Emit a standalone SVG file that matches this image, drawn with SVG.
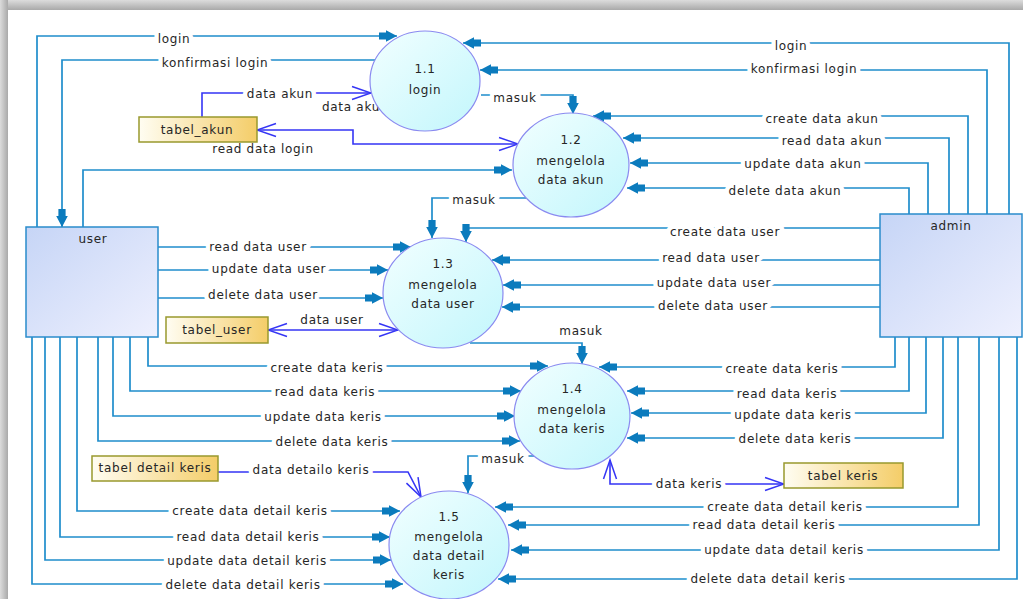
<svg xmlns="http://www.w3.org/2000/svg" width="1023" height="599" viewBox="0 0 1023 599">
<style>
text{font-family:"DejaVu Sans","Liberation Sans",sans-serif;font-size:12px;letter-spacing:0.7px;fill:#262626;text-anchor:middle}
.lbl{paint-order:stroke;stroke:#fff;stroke-width:9px;stroke-linejoin:round}
.c{fill:none;stroke:#1f8dcc;stroke-width:1.7;marker-end:url(#ah)}
.d{fill:none;stroke:#3535f5;stroke-width:1.6}
.proc{fill:url(#gp);stroke:#8a8af0;stroke-width:1.2}
.ent{fill:url(#ge);stroke:#2a8ccc;stroke-width:1.5}
.store{fill:url(#gs);stroke:#99992e;stroke-width:1.5}
</style>
<defs>
<linearGradient id="gp" x1="0" y1="0" x2="1" y2="1"><stop offset="0" stop-color="#f2ffff"/><stop offset="1" stop-color="#c2f6fc"/></linearGradient>
<linearGradient id="ge" x1="0" y1="0" x2="1" y2="1"><stop offset="0" stop-color="#c6d5f6"/><stop offset="1" stop-color="#eef0fe"/></linearGradient>
<linearGradient id="gs" x1="0" y1="0" x2="1" y2="0"><stop offset="0" stop-color="#fffdf2"/><stop offset="1" stop-color="#f4cd68"/></linearGradient>
<linearGradient id="gt" x1="0" y1="0" x2="0" y2="1"><stop offset="0" stop-color="#dcdcdc"/><stop offset="1" stop-color="#a9a9a9"/></linearGradient>
<linearGradient id="gl" x1="0" y1="0" x2="1" y2="0"><stop offset="0" stop-color="#dcdcdc"/><stop offset="1" stop-color="#a9a9a9"/></linearGradient>
<marker id="ah" markerUnits="userSpaceOnUse" markerWidth="20" markerHeight="14" viewBox="0 -7 20 14" refX="18" refY="0" orient="auto"><path d="M0,-3.6 L7,-3.6 L7,-5.8 L18,0 L7,5.8 L7,3.6 L0,3.6Z" fill="#0b7bbd"/></marker>
<marker id="oa" markerUnits="userSpaceOnUse" markerWidth="22" markerHeight="16" viewBox="0 -8 22 16" refX="20" refY="0" orient="auto-start-reverse"><path d="M1,-6.5 L20,0 L1,6.5" fill="none" stroke="#3535f5" stroke-width="1.5"/></marker>
</defs>
<rect x="0" y="0" width="1023" height="599" fill="#fff"/>
<rect x="0" y="0" width="1023" height="10" fill="url(#gt)"/>
<rect x="0" y="0" width="8" height="599" fill="url(#gl)"/>

<g id="connectors">
<path class="c" d="M37,227 V36 H397"/>
<path class="c" d="M375,60 H62 V227"/>
<path class="c" d="M83,227 V170 H512"/>
<path class="c" d="M1009,214 V43 H463"/>
<path class="c" d="M987,214 V70 H480"/>
<path class="c" d="M968,214 V116 H593"/>
<path class="c" d="M949,214 V138 H623"/>
<path class="c" d="M928,214 V163 H630"/>
<path class="c" d="M909,214 V188 H627"/>
<path class="c" d="M481,95 H573 V114"/>
<path class="c" d="M526,198 H432 V238"/>
<path class="c" d="M880,228 H466 V242"/>
<path class="c" d="M880,260 H492"/>
<path class="c" d="M880,285 H503"/>
<path class="c" d="M880,307 H502"/>
<path class="c" d="M158,247 H411"/>
<path class="c" d="M158,270 H388"/>
<path class="c" d="M158,298 H383"/>
<path class="c" d="M470,343 H582 V364"/>
<path class="c" d="M148,337 V366 H548"/>
<path class="c" d="M130,337 V391 H521"/>
<path class="c" d="M113,337 V416 H515"/>
<path class="c" d="M98,337 V441 H520"/>
<path class="c" d="M895,337 V367 H599"/>
<path class="c" d="M909,337 V391 H627"/>
<path class="c" d="M926,337 V413 H631"/>
<path class="c" d="M943,337 V438 H627"/>
<path class="c" d="M534,456 H468 V493"/>
<path class="c" d="M77,337 V511 H400"/>
<path class="c" d="M60,337 V537 H390"/>
<path class="c" d="M45,337 V560 H391"/>
<path class="c" d="M32,337 V584 H403"/>
<path class="c" d="M958,337 V507 H495"/>
<path class="c" d="M979,337 V525 H508"/>
<path class="c" d="M999,337 V550 H511"/>
<path class="c" d="M1017,337 V579 H498"/>
<path class="d" d="M202,117 V93 H371" marker-end="url(#oa)"/>
<path class="d" d="M257,130 H353 V144 H518" marker-start="url(#oa)" marker-end="url(#oa)"/>
<path class="d" d="M268,330 H398" marker-start="url(#oa)" marker-end="url(#oa)"/>
<path class="d" d="M784,484 H610 V460" marker-start="url(#oa)" marker-end="url(#oa)"/>
<path class="d" d="M218,472 H408 L421,497" marker-end="url(#oa)"/>

<text class="lbl" x="174" y="43">login</text>
<text class="lbl" x="215" y="67">konfirmasi login</text>
<text class="lbl" x="791" y="50">login</text>
<text class="lbl" x="804" y="73">konfirmasi login</text>
<text class="lbl" x="822" y="123">create data akun</text>
<text class="lbl" x="832" y="145">read data akun</text>
<text class="lbl" x="803" y="168">update data akun</text>
<text class="lbl" x="785" y="195">delete data akun</text>
<text class="lbl" x="280" y="98">data akun</text>
<text class="lbl" x="322" y="111" style="text-anchor:start">data aku</text>
<text class="lbl" x="263" y="153">read data login</text>
<text class="lbl" x="515" y="102">masuk</text>
<text class="lbl" x="474" y="204">masuk</text>
<text class="lbl" x="581" y="335">masuk</text>
<text class="lbl" x="503" y="463">masuk</text>
<text class="lbl" x="725" y="236">create data user</text>
<text class="lbl" x="711" y="262">read data user</text>
<text class="lbl" x="714" y="287">update data user</text>
<text class="lbl" x="713" y="310">delete data user</text>
<text class="lbl" x="258" y="251">read data user</text>
<text class="lbl" x="269" y="273">update data user</text>
<text class="lbl" x="263" y="299">delete data user</text>
<text class="lbl" x="332" y="324">data user</text>
<text class="lbl" x="327" y="372">create data keris</text>
<text class="lbl" x="325" y="396">read data keris</text>
<text class="lbl" x="323" y="421">update data keris</text>
<text class="lbl" x="332" y="446">delete data keris</text>
<text class="lbl" x="782" y="373">create data keris</text>
<text class="lbl" x="787" y="398">read data keris</text>
<text class="lbl" x="793" y="419">update data keris</text>
<text class="lbl" x="795" y="443">delete data keris</text>
<text class="lbl" x="311" y="474">data detailo keris</text>
<text class="lbl" x="689" y="488">data keris</text>
<text class="lbl" x="250" y="515">create data detail keris</text>
<text class="lbl" x="248" y="541">read data detail keris</text>
<text class="lbl" x="247" y="565">update data detail keris</text>
<text class="lbl" x="243" y="589">delete data detail keris</text>
<text class="lbl" x="785" y="511">create data detail keris</text>
<text class="lbl" x="764" y="529">read data detail keris</text>
<text class="lbl" x="784" y="554">update data detail keris</text>
<text class="lbl" x="768" y="583">delete data detail keris</text>
</g>

<g id="p11"><ellipse class="proc" cx="425" cy="81" rx="55" ry="50"/><text x="425" y="73">1.1</text><text x="425" y="94">login</text></g>
<g id="p12"><ellipse class="proc" cx="571" cy="165" rx="58" ry="52"/><text x="571" y="144">1.2</text><text x="571" y="165">mengelola</text><text x="571" y="184">data akun</text></g>
<g id="p13"><ellipse class="proc" cx="443" cy="293" rx="60" ry="55"/><text x="443" y="268">1.3</text><text x="443" y="289">mengelola</text><text x="443" y="308">data user</text></g>
<g id="p14"><ellipse class="proc" cx="572" cy="416" rx="58" ry="53"/><text x="572" y="393">1.4</text><text x="572" y="414">mengelola</text><text x="572" y="433">data keris</text></g>
<g id="p15"><ellipse class="proc" cx="449" cy="545" rx="60" ry="54"/><text x="449" y="521">1.5</text><text x="449" y="541">mengelola</text><text x="449" y="560">data detail</text><text x="449" y="579">keris</text></g>

<g id="user"><rect class="ent" x="26" y="227" width="132" height="110"/><text x="93" y="243">user</text></g>
<g id="admin"><rect class="ent" x="880" y="214" width="142" height="123"/><text x="951" y="230">admin</text></g>

<g id="tabel_akun"><rect class="store" x="139" y="117" width="118" height="25"/><text x="197" y="134">tabel_akun</text></g>
<g id="tabel_user"><rect class="store" x="166" y="317" width="102" height="26"/><text x="217" y="334">tabel_user</text></g>
<g id="tabel_detail_keris"><rect class="store" x="92" y="456" width="126" height="25"/><text x="155" y="472">tabel detail keris</text></g>
<g id="tabel_keris"><rect class="store" x="784" y="463" width="119" height="25"/><text x="843" y="480">tabel keris</text></g>
</svg>
